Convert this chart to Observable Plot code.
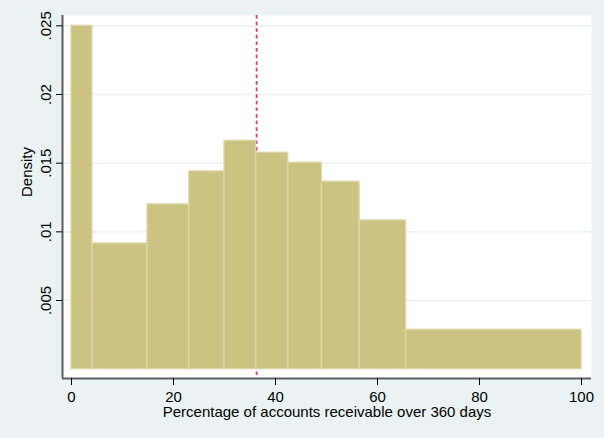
<!DOCTYPE html>
<html><head><meta charset="utf-8">
<script src="https://cdn.jsdelivr.net/npm/d3@7"></script>
<script src="https://cdn.jsdelivr.net/npm/@observablehq/plot@0.6"></script>
<style>html,body{margin:0;padding:0;background:#EAF2F3;} #chart{width:604px;height:438px;}</style>
</head><body><div id="chart"></div>
<script>
const binEdges = [0, 4.1, 14.9, 23.1, 30.0, 36.2, 42.5, 49.1, 56.5, 65.6, 100];
const density = [0.0250, 0.00915, 0.0120, 0.0144, 0.01663, 0.01576, 0.01503, 0.01365, 0.01083, 0.00287];
const xTicks = [0, 20, 40, 60, 80, 100];
const yTicks = [0.005, 0.01, 0.015, 0.02, 0.025];
const yTickLabels = [".005", ".01", ".015", ".02", ".025"];
const refLine = [36.3];
const xLabel = "Percentage of accounts receivable over 360 days";
const yLabel = "Density";
const xDomain = [-1.765, 101.96];
const yDomain = [-0.00068, 0.025754];

const bins = density.map((d, i) => ({x1: binEdges[i], x2: binEdges[i + 1], density: d}));

const chart = Plot.plot({
  width: 604, height: 438,
  marginLeft: 62, marginRight: 13, marginTop: 15, marginBottom: 60,
  style: {background: "transparent", fontFamily: "'Liberation Sans', Arial, sans-serif", fontSize: "15px", color: "#000"},
  x: {domain: xDomain, axis: null},
  y: {domain: yDomain, axis: null},
  marks: [
    Plot.frame({fill: "white", stroke: null}),
    Plot.gridY(yTicks, {stroke: "#EAF2F3", strokeOpacity: 1, strokeWidth: 1.6}),
    Plot.ruleX(refLine, {stroke: "#D6426B", strokeWidth: 1.8, strokeDasharray: "3.7,2.9"}),
    Plot.rect(bins, {x1: "x1", x2: "x2", y1: () => 0, y2: "density", fill: "#CBC382", stroke: "#DCD7A8", strokeWidth: 1.3}),
    Plot.ruleY([yDomain[0]], {stroke: "#5c5c5c", strokeWidth: 2}),
    Plot.ruleX([xDomain[0]], {stroke: "#5c5c5c", strokeWidth: 2}),
    Plot.axisX(xTicks, {tickSize: 7, tickPadding: 6, fontSize: 15, label: null, stroke: "#000"}),
    Plot.axisY(yTicks, {tickSize: 6, tickPadding: 6, tickRotate: -90, fontSize: 15, label: null,
      tickFormat: d => yTickLabels[yTicks.indexOf(d)]}),
    Plot.text([yLabel], {text: d => d, frameAnchor: "left", dx: -30.5, rotate: -90, lineAnchor: "bottom", fontSize: 15, fill: "#000"}),
    Plot.text([xLabel], {text: d => d, frameAnchor: "bottom", dy: 38, lineAnchor: "bottom", fontSize: 15, fill: "#000"})
  ]
});
document.getElementById("chart").appendChild(chart);
</script>
</body></html>
